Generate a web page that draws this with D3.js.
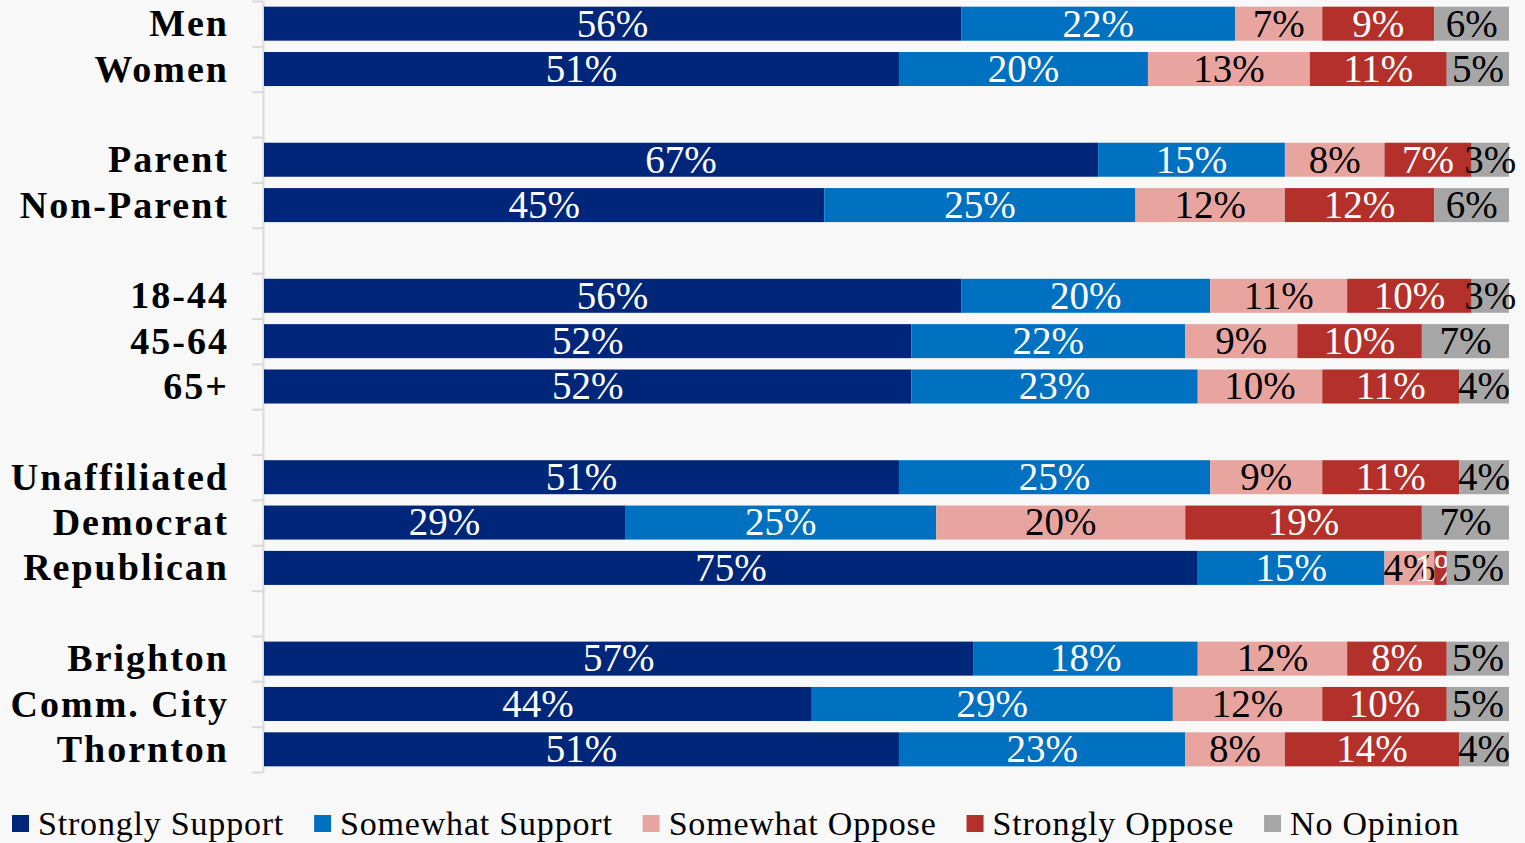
<!DOCTYPE html>
<html>
<head>
<meta charset="utf-8">
<script src="https://cdn.jsdelivr.net/npm/d3@7"></script>
<style>
  body { margin: 0; background: #f8f8f8; }
  svg { display: block; }
</style>
</head>
<body>
<div id="chart"></div>
<script>
// categories, in slot order (null = empty gap row)
var slots = ['Men', 'Women', null, 'Parent', 'Non-Parent', null, '18-44', '45-64', '65+', null,
             'Unaffiliated', 'Democrat', 'Republican', null, 'Brighton', 'Comm. City', 'Thornton'];

var series = ['Strongly Support', 'Somewhat Support', 'Somewhat Oppose', 'Strongly Oppose', 'No Opinion'];

// values per group, in series order
var strongly_support = [56, 51, 67, 45, 56, 52, 52, 51, 29, 75, 57, 44, 51],
    somewhat_support = [22, 20, 15, 25, 20, 22, 23, 25, 25, 15, 18, 29, 23],
    somewhat_oppose  = [7, 13, 8, 12, 11, 9, 10, 9, 20, 4, 12, 12, 8],
    strongly_oppose  = [9, 11, 7, 12, 10, 10, 11, 11, 19, 1, 8, 10, 14],
    no_opinion       = [6, 5, 3, 6, 3, 7, 4, 4, 7, 5, 5, 5, 4];

var groups = slots.filter(function(d) { return d !== null; });

// colours
var colors = ['#00267a', '#0070c0', '#e8a5a0', '#b3312a', '#a6a6a6'],
    text_colors = ['#ffffff', '#ffffff', '#000000', '#ffffff', '#000000'];

var font = "'Liberation Serif', serif";

// layout
var width = 1525, height = 843,
    margin = {top: 1, left: 263, right: 16, bottom: 70};

var svg = d3.select('#chart').append('svg')
    .attr('width', width)
    .attr('height', height);

// table for stacking
var table = groups.map(function(g, i) {
  return {group: g, 0: strongly_support[i], 1: somewhat_support[i], 2: somewhat_oppose[i],
          3: strongly_oppose[i], 4: no_opinion[i]};
});
var stack = d3.stack().keys([0, 1, 2, 3, 4])(table);

// scales
var x = d3.scaleLinear().domain([0, 100]).range([margin.left + 1, width - margin.right]),
    y_slot = d3.scaleLinear().domain([0, slots.length]).range([margin.top, height - margin.bottom - 1]),
    y = d3.scaleBand().domain(d3.range(slots.length)).range(y_slot.range()).paddingInner(0.25).paddingOuter(0.125);

function slot_of(g) { return slots.indexOf(g); }

// axis
var y_axis = d3.axisLeft(y_slot).tickValues(d3.range(slots.length + 1)).tickFormat('').tickSize(11).tickSizeOuter(0);
var g_axis = svg.append('g')
    .attr('transform', 'translate(' + margin.left + ',0)')
    .call(y_axis);
g_axis.selectAll('path, line').attr('stroke', '#d9d9d9').attr('stroke-width', 2);

// group labels
svg.append('g').selectAll('text')
    .data(groups)
  .enter().append('text')
    .attr('x', 229)
    .attr('y', function(d) { return y(slot_of(d)) + y.bandwidth() / 2; })
    .attr('dy', '0.33em')
    .attr('text-anchor', 'end')
    .style('font-family', font)
    .style('font-weight', 'bold')
    .style('font-size', '38px')
    .style('letter-spacing', '2px')
    .text(function(d) { return d; });

// bars
var layers = svg.append('g').selectAll('g')
    .data(stack)
  .enter().append('g');

layers.selectAll('rect')
    .data(function(d) { return d; })
  .enter().append('rect')
    .attr('x', function(d) { return x(d[0]); })
    .attr('width', function(d) { return x(d[1]) - x(d[0]); })
    .attr('y', function(d) { return y(slot_of(d.data.group)); })
    .attr('height', y.bandwidth())
    .attr('fill', function(d) { return colors[d3.select(this.parentNode).datum().key]; });

// value labels
layers.each(function(layer) {
  d3.select(this).selectAll('text')
      .data(layer)
    .enter().append('text')
      .attr('x', function(d) { return (x(d[0]) + x(d[1])) / 2; })
      .attr('y', function(d) { return y(slot_of(d.data.group)) + y.bandwidth() / 2; })
      .attr('dy', '0.33em')
      .attr('text-anchor', 'middle')
      .style('font-family', font)
      .style('font-size', '39px')
      .attr('fill', text_colors[layer.key])
      .text(function(d) { return (d[1] - d[0]) + '%'; });
});

// legend
var legend = svg.append('g').attr('transform', 'translate(0,' + 824 + ')');
var lx = 12;
series.forEach(function(s, i) {
  legend.append('rect')
      .attr('x', lx).attr('y', -9)
      .attr('width', 17).attr('height', 17)
      .attr('fill', colors[i]);
  var t = legend.append('text')
      .attr('x', lx + 26)
      .attr('dy', '0.33em')
      .style('font-family', font)
      .style('font-size', '34px')
      .style('letter-spacing', '0.8px')
      .attr('fill', '#000')
      .text(s);
  lx += 26 + t.node().getComputedTextLength() + 30;
});
</script>
</body>
</html>
